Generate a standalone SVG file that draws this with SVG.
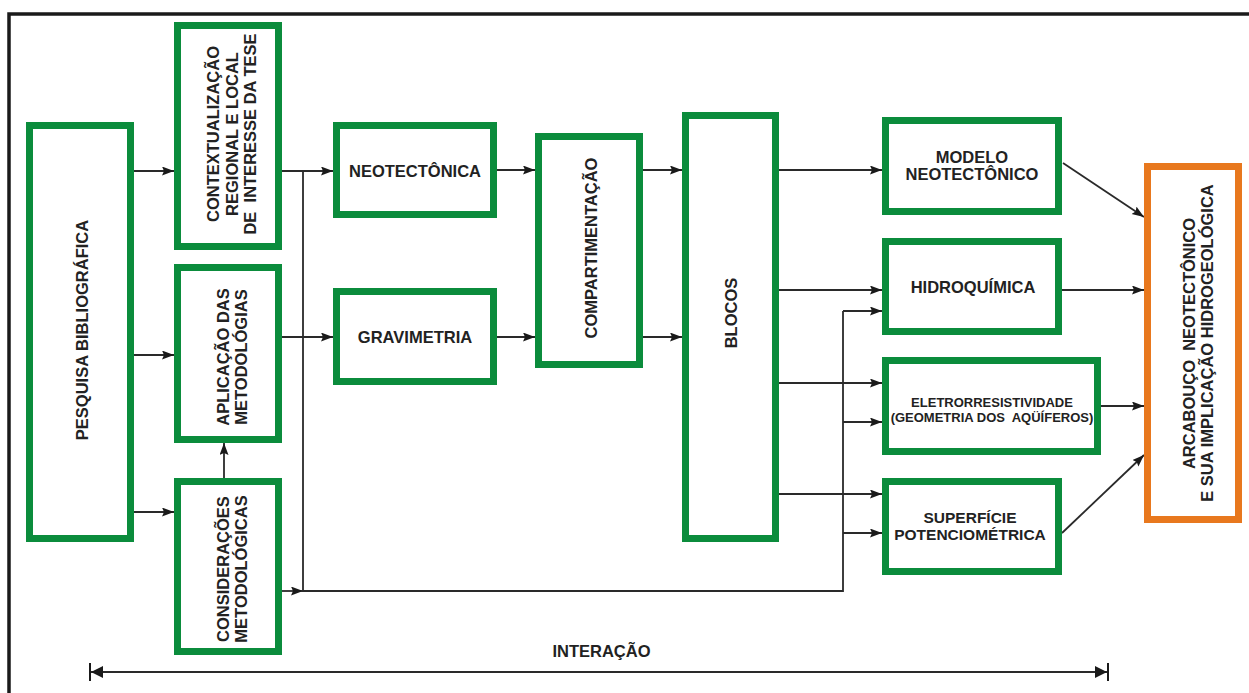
<svg xmlns="http://www.w3.org/2000/svg" width="1249" height="693" viewBox="0 0 1249 693">
<style>
.box{fill:#fff;stroke:#0b8c3c;stroke-width:7}
.obox{fill:#fff;stroke:#e8781e;stroke-width:7}
.t{font-family:"Liberation Sans",Arial,sans-serif;font-weight:bold;font-size:16.5px;fill:#222;text-anchor:middle}
.s{font-size:13px}
.c{fill:none;stroke:#2a2a2a;stroke-width:1.8}
.a{marker-end:url(#ah)}
</style>
<defs>
<marker id="ah" markerUnits="userSpaceOnUse" markerWidth="13" markerHeight="10" refX="12" refY="4.5" orient="auto">
<path d="M0,0 L12,4.5 L0,9 L2,4.5 z" fill="#1a1a1a"/>
</marker>
</defs>
<rect width="1249" height="693" fill="#fff"/>
<path d="M9,693 V14 H1249" fill="none" stroke="#1a1a1a" stroke-width="3.5"/>

<g id="connectors">
<path class="c a" d="M134,171 H174"/>
<path class="c a" d="M134,355 H174"/>
<path class="c a" d="M134,512 H174"/>
<path class="c a" d="M224,478 V443"/>
<path class="c a" d="M282,171 H333"/>
<path class="c a" d="M282,337 H333"/>
<path class="c a" d="M282,591 H303"/>
<path class="c" d="M303,171 V591 H843 V311"/>
<path class="c a" d="M843,311 H882"/>
<path class="c a" d="M843,422 H882"/>
<path class="c a" d="M843,533 H882"/>
<path class="c a" d="M497,170 H535"/>
<path class="c a" d="M497,337 H535"/>
<path class="c a" d="M643,170 H682"/>
<path class="c a" d="M643,337 H682"/>
<path class="c a" d="M779,170 H882"/>
<path class="c a" d="M779,290 H882"/>
<path class="c a" d="M779,383 H882"/>
<path class="c a" d="M779,494 H882"/>
<path class="c a" d="M1063,163 L1144,217"/>
<path class="c a" d="M1062,290 H1144"/>
<path class="c a" d="M1101,406 H1144"/>
<path class="c a" d="M1062,533 L1144,455"/>
<path class="c" d="M91,672 H1107"/>
<path d="M91,672 L103,666 L103,678 z M1107,672 L1095,666 L1095,678 z" fill="#1a1a1a"/>
<path d="M90,663 V681 M1108,663 V681" stroke="#1a1a1a" stroke-width="2" fill="none"/>
</g>

<g id="pesquisa">
<rect class="box" x="29.5" y="125.5" width="101" height="413"/>
<text class="t" transform="translate(88,330) rotate(-90)">PESQUISA BIBLIOGRÁFICA</text>
</g>
<g id="contextualizacao">
<rect class="box" x="177.5" y="25.5" width="101" height="221"/>
<text class="t" transform="translate(219,134) rotate(-90)">CONTEXTUALIZAÇÃO</text>
<text class="t" transform="translate(237.5,134) rotate(-90)">REGIONAL E LOCAL</text>
<text class="t" transform="translate(256,134) rotate(-90)" xml:space="preserve">DE  INTERESSE DA TESE</text>
</g>
<g id="aplicacao">
<rect class="box" x="177.5" y="267.5" width="101" height="172"/>
<text class="t" transform="translate(229,357) rotate(-90)">APLICAÇÃO DAS</text>
<text class="t" transform="translate(247,357) rotate(-90)">METODOLÓGIAS</text>
</g>
<g id="consideracoes">
<rect class="box" x="177.5" y="481.5" width="101" height="170"/>
<text class="t" transform="translate(229,569) rotate(-90)">CONSIDERAÇÕES</text>
<text class="t" transform="translate(247,569) rotate(-90)">METODOLÓGICAS</text>
</g>
<g id="neotectonica">
<rect class="box" x="336.5" y="125.5" width="157" height="89"/>
<text class="t" x="415" y="177">NEOTECTÔNICA</text>
</g>
<g id="gravimetria">
<rect class="box" x="336.5" y="291.5" width="157" height="90"/>
<text class="t" x="415" y="343">GRAVIMETRIA</text>
</g>
<g id="compartimentacao">
<rect class="box" x="538.5" y="136.5" width="101" height="228"/>
<text class="t" transform="translate(597,248) rotate(-90)">COMPARTIMENTAÇÃO</text>
</g>
<g id="blocos">
<rect class="box" x="685.5" y="115.5" width="90" height="423"/>
<text class="t" transform="translate(737,313) rotate(-90)">BLOCOS</text>
</g>
<g id="modelo">
<rect class="box" x="885.5" y="120.5" width="173" height="91"/>
<text class="t" x="972" y="163">MODELO</text>
<text class="t" x="972" y="180">NEOTECTÔNICO</text>
</g>
<g id="hidroquimica">
<rect class="box" x="885.5" y="241.5" width="173" height="90"/>
<text class="t" x="973" y="293">HIDROQUÍMICA</text>
</g>
<g id="eletrorresistividade">
<rect class="box" x="885.5" y="360.5" width="212" height="91"/>
<text class="t s" x="992" y="407">ELETRORRESISTIVIDADE</text>
<text class="t s" x="992" y="422" xml:space="preserve">(GEOMETRIA DOS  AQÜÍFEROS)</text>
</g>
<g id="superficie">
<rect class="box" x="885.5" y="481.5" width="173" height="90"/>
<text class="t" x="970" y="523" style="font-size:15.5px">SUPERFÍCIE</text>
<text class="t" x="970" y="540" style="font-size:15.5px">POTENCIOMÉTRICA</text>
</g>
<g id="arcabouco">
<rect class="obox" x="1147.5" y="166.5" width="91" height="353"/>
<text class="t" transform="translate(1195,343.5) rotate(-90)" xml:space="preserve">ARCABOUÇO  NEOTECTÔNICO</text>
<text class="t" transform="translate(1213,343) rotate(-90)">E SUA IMPLICAÇÃO HIDROGEOLÓGICA</text>
</g>
<g id="interacao">
<text class="t" x="601.5" y="657">INTERAÇÃO</text>
</g>
</svg>
